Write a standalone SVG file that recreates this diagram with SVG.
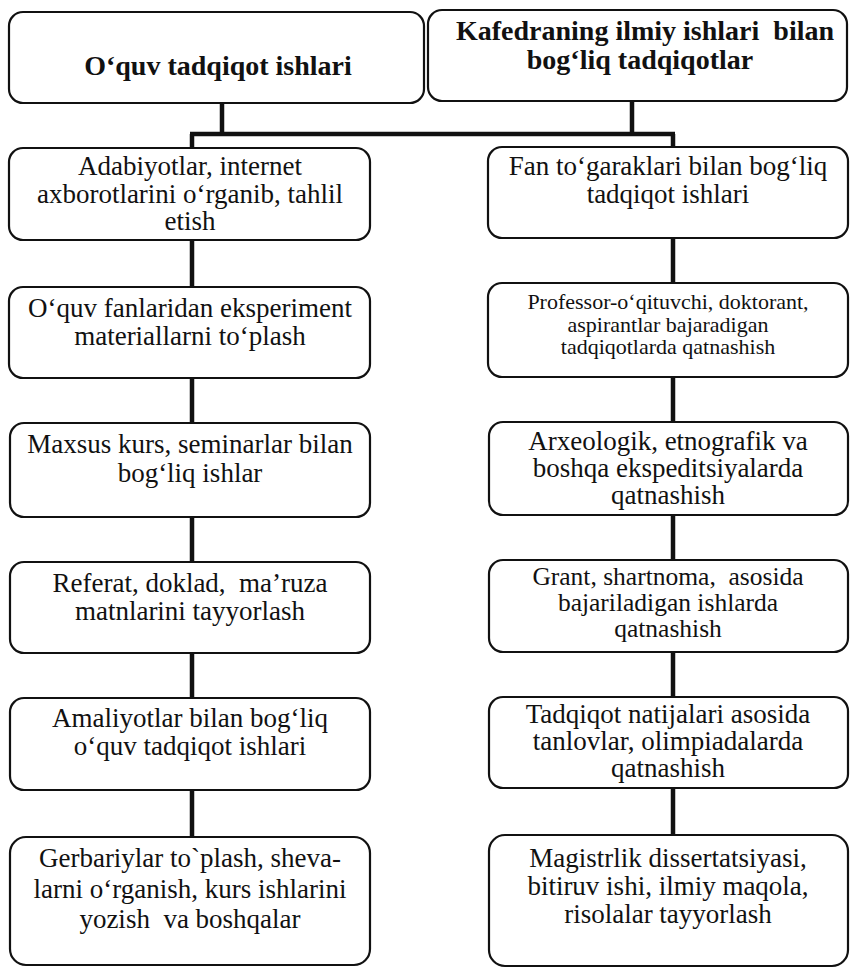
<svg xmlns="http://www.w3.org/2000/svg" width="851" height="970" viewBox="0 0 851 970">
<style>
.box{fill:#fff;stroke:#111;stroke-width:2.2}
.t{font-family:"Liberation Serif","Times New Roman",serif;font-size:27px;fill:#111;text-anchor:middle;white-space:pre}
.b{font-weight:bold;font-size:28px}
.s{font-size:22px}
.m{font-size:25.5px}
.c{stroke:#111;stroke-width:4.5;fill:none}
</style>
<rect width="851" height="970" fill="#fff"/>
<g id="connectors">
<path class="c" d="M222 103V134M632 101V134M190 134H675M192 134V148M673 134V147"/>
<path class="c" d="M192 240V287M192 378V423M192 517V562M192 653V698M192 790V837"/>
<path class="c" d="M673 238V283M673 377V422M673 515V560M673 652V697M673 788V835"/>
</g>
<g id="h1"><rect class="box" x="9" y="12" width="415" height="91" rx="14"/>
<text class="t b" x="218" y="75">O‘quv tadqiqot ishlari</text></g>
<g id="h2"><rect class="box" x="428" y="10" width="419" height="91" rx="14"/>
<text class="t b" x="645" y="40" xml:space="preserve">Kafedraning ilmiy ishlari  bilan</text>
<text class="t b" x="640" y="69">bog‘liq tadqiqotlar</text></g>
<g id="l1"><rect class="box" x="9" y="148" width="361" height="92" rx="14"/>
<text class="t" x="190" y="175">Adabiyotlar, internet</text>
<text class="t" x="190" y="203">axborotlarini o‘rganib, tahlil</text>
<text class="t" x="190" y="230">etish</text></g>
<g id="l2"><rect class="box" x="9" y="287" width="361" height="91" rx="14"/>
<text class="t" x="190" y="317">O‘quv fanlaridan eksperiment</text>
<text class="t" x="190" y="345">materiallarni to‘plash</text></g>
<g id="l3"><rect class="box" x="10" y="423" width="360" height="94" rx="14"/>
<text class="t" x="190" y="453">Maxsus kurs, seminarlar bilan</text>
<text class="t" x="190" y="482">bog‘liq ishlar</text></g>
<g id="l4"><rect class="box" x="10" y="562" width="360" height="91" rx="14"/>
<text class="t" x="190" y="592" xml:space="preserve">Referat, doklad,  ma’ruza</text>
<text class="t" x="190" y="620">matnlarini tayyorlash</text></g>
<g id="l5"><rect class="box" x="10" y="698" width="360" height="92" rx="14"/>
<text class="t" x="190" y="727">Amaliyotlar bilan bog‘liq</text>
<text class="t" x="190" y="755">o‘quv tadqiqot ishlari</text></g>
<g id="l6"><rect class="box" x="10" y="837" width="360" height="128" rx="16"/>
<text class="t" x="190" y="867">Gerbariylar to`plash, sheva-</text>
<text class="t" x="190" y="898">larni o‘rganish, kurs ishlarini</text>
<text class="t" x="190" y="928" xml:space="preserve">yozish  va boshqalar</text></g>
<g id="r1"><rect class="box" x="488" y="147" width="360" height="91" rx="14"/>
<text class="t" x="668" y="175">Fan to‘garaklari bilan bog‘liq</text>
<text class="t" x="668" y="203">tadqiqot ishlari</text></g>
<g id="r2"><rect class="box" x="488" y="283" width="360" height="94" rx="14"/>
<text class="t s" x="668" y="309">Professor-o‘qituvchi, doktorant,</text>
<text class="t s" x="668" y="331.5">aspirantlar bajaradigan</text>
<text class="t s" x="668" y="354">tadqiqotlarda qatnashish</text></g>
<g id="r3"><rect class="box" x="489" y="422" width="359" height="93" rx="14"/>
<text class="t" x="668" y="450">Arxeologik, etnografik va</text>
<text class="t" x="668" y="477">boshqa ekspeditsiyalarda</text>
<text class="t" x="668" y="504">qatnashish</text></g>
<g id="r4"><rect class="box" x="489" y="560" width="359" height="92" rx="14"/>
<text class="t m" x="668" y="585" xml:space="preserve">Grant, shartnoma,  asosida</text>
<text class="t m" x="668" y="611">bajariladigan ishlarda</text>
<text class="t m" x="668" y="637">qatnashish</text></g>
<g id="r5"><rect class="box" x="489" y="697" width="359" height="91" rx="14"/>
<text class="t" x="668" y="723">Tadqiqot natijalari asosida</text>
<text class="t" x="668" y="750">tanlovlar, olimpiadalarda</text>
<text class="t" x="668" y="777">qatnashish</text></g>
<g id="r6"><rect class="box" x="489" y="835" width="359" height="131" rx="16"/>
<text class="t" x="668" y="867">Magistrlik dissertatsiyasi,</text>
<text class="t" x="668" y="895">bitiruv ishi, ilmiy maqola,</text>
<text class="t" x="668" y="923">risolalar tayyorlash</text></g>
</svg>
